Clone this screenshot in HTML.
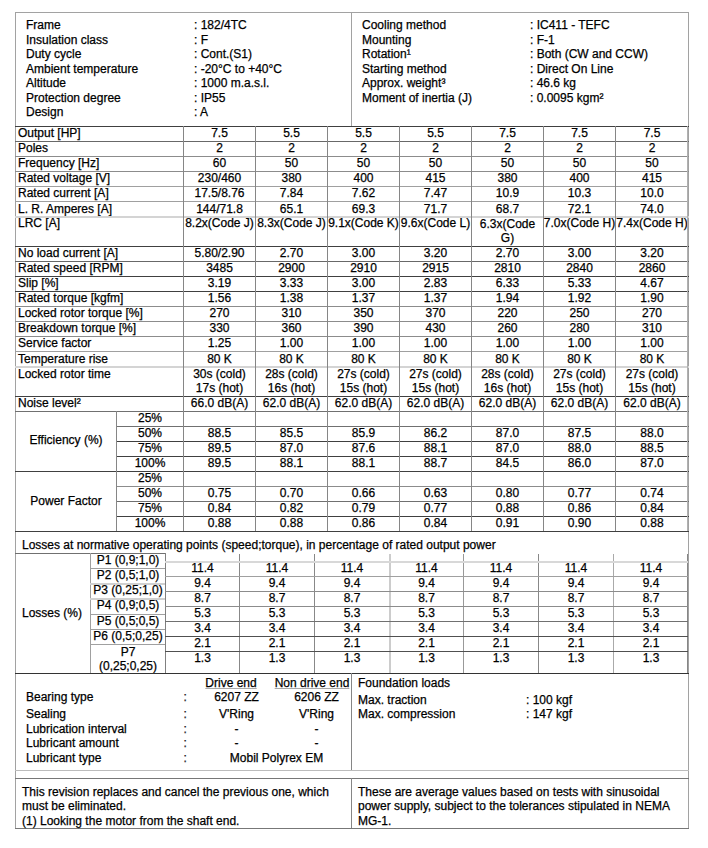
<!DOCTYPE html>
<html><head><meta charset="utf-8"><title>Motor data sheet</title>
<style>
html,body{margin:0;padding:0;background:#fff;}
body{width:708px;height:848px;position:relative;overflow:hidden;font-family:"Liberation Sans",sans-serif;font-size:12px;color:#000;}
.l{position:absolute;}
.t{position:absolute;white-space:nowrap;line-height:15px;-webkit-text-stroke:0.25px #000;}
u{text-decoration:underline;text-underline-offset:1px;text-decoration-color:#a8a8a8;}
</style></head><body>
<div class="l" style="left:15px;top:12px;width:674px;height:1px;background:#a2a2a2"></div>
<div class="l" style="left:15px;top:12px;width:1px;height:817px;background:#a2a2a2"></div>
<div class="l" style="left:688px;top:12px;width:1px;height:817px;background:#a2a2a2"></div>
<div class="l" style="left:351px;top:12px;width:1px;height:114px;background:#a2a2a2"></div>
<div class="t" style="left:26.0px;top:18px;">Frame</div>
<div class="t" style="left:194.0px;top:18px;">: 182/4TC</div>
<div class="t" style="left:26.0px;top:33px;">Insulation class</div>
<div class="t" style="left:194.0px;top:33px;">: F</div>
<div class="t" style="left:26.0px;top:47px;">Duty cycle</div>
<div class="t" style="left:194.0px;top:47px;">: Cont.(S1)</div>
<div class="t" style="left:26.0px;top:62px;">Ambient temperature</div>
<div class="t" style="left:194.0px;top:62px;">: -20°C to +40°C</div>
<div class="t" style="left:26.0px;top:76px;">Altitude</div>
<div class="t" style="left:194.0px;top:76px;">: 1000 m.a.s.l.</div>
<div class="t" style="left:26.0px;top:91px;">Protection degree</div>
<div class="t" style="left:194.0px;top:91px;">: IP55</div>
<div class="t" style="left:26.0px;top:105px;">Design</div>
<div class="t" style="left:194.0px;top:105px;">: A</div>
<div class="t" style="left:362.0px;top:18px;">Cooling method</div>
<div class="t" style="left:530.0px;top:18px;">: IC411 - TEFC</div>
<div class="t" style="left:362.0px;top:33px;">Mounting</div>
<div class="t" style="left:530.0px;top:33px;">: F-1</div>
<div class="t" style="left:362.0px;top:47px;">Rotation¹</div>
<div class="t" style="left:530.0px;top:47px;">: Both (CW and CCW)</div>
<div class="t" style="left:362.0px;top:62px;">Starting method</div>
<div class="t" style="left:530.0px;top:62px;">: Direct On Line</div>
<div class="t" style="left:362.0px;top:76px;">Approx. weight³</div>
<div class="t" style="left:530.0px;top:76px;">: 46.6 kg</div>
<div class="t" style="left:362.0px;top:91px;">Moment of inertia (J)</div>
<div class="t" style="left:530.0px;top:91px;">: 0.0095 kgm²</div>
<div class="l" style="left:15px;top:126px;width:674px;height:1px;background:#404040"></div>
<div class="t" style="left:18.0px;top:126px;">Output [HP]</div>
<div class="t" style="left:183.5px;top:126px;width:72px;text-align:center;">7.5</div>
<div class="t" style="left:255.5px;top:126px;width:72px;text-align:center;">5.5</div>
<div class="t" style="left:327.5px;top:126px;width:72px;text-align:center;">5.5</div>
<div class="t" style="left:399.5px;top:126px;width:72px;text-align:center;">5.5</div>
<div class="t" style="left:471.5px;top:126px;width:72px;text-align:center;">7.5</div>
<div class="t" style="left:543.5px;top:126px;width:72px;text-align:center;">7.5</div>
<div class="t" style="left:615.5px;top:126px;width:73px;text-align:center;">7.5</div>
<div class="l" style="left:15px;top:141px;width:674px;height:1px;background:#686868"></div>
<div class="t" style="left:18.0px;top:141px;">Poles</div>
<div class="t" style="left:183.5px;top:141px;width:72px;text-align:center;">2</div>
<div class="t" style="left:255.5px;top:141px;width:72px;text-align:center;">2</div>
<div class="t" style="left:327.5px;top:141px;width:72px;text-align:center;">2</div>
<div class="t" style="left:399.5px;top:141px;width:72px;text-align:center;">2</div>
<div class="t" style="left:471.5px;top:141px;width:72px;text-align:center;">2</div>
<div class="t" style="left:543.5px;top:141px;width:72px;text-align:center;">2</div>
<div class="t" style="left:615.5px;top:141px;width:73px;text-align:center;">2</div>
<div class="l" style="left:15px;top:156px;width:674px;height:1px;background:#8c8c8c"></div>
<div class="t" style="left:18.0px;top:156px;">Frequency [Hz]</div>
<div class="t" style="left:183.5px;top:156px;width:72px;text-align:center;">60</div>
<div class="t" style="left:255.5px;top:156px;width:72px;text-align:center;">50</div>
<div class="t" style="left:327.5px;top:156px;width:72px;text-align:center;">50</div>
<div class="t" style="left:399.5px;top:156px;width:72px;text-align:center;">50</div>
<div class="t" style="left:471.5px;top:156px;width:72px;text-align:center;">50</div>
<div class="t" style="left:543.5px;top:156px;width:72px;text-align:center;">50</div>
<div class="t" style="left:615.5px;top:156px;width:73px;text-align:center;">50</div>
<div class="l" style="left:15px;top:171px;width:674px;height:1px;background:#8c8c8c"></div>
<div class="t" style="left:18.0px;top:171px;">Rated voltage [V]</div>
<div class="t" style="left:183.5px;top:171px;width:72px;text-align:center;">230/460</div>
<div class="t" style="left:255.5px;top:171px;width:72px;text-align:center;">380</div>
<div class="t" style="left:327.5px;top:171px;width:72px;text-align:center;">400</div>
<div class="t" style="left:399.5px;top:171px;width:72px;text-align:center;">415</div>
<div class="t" style="left:471.5px;top:171px;width:72px;text-align:center;">380</div>
<div class="t" style="left:543.5px;top:171px;width:72px;text-align:center;">400</div>
<div class="t" style="left:615.5px;top:171px;width:73px;text-align:center;">415</div>
<div class="l" style="left:15px;top:186px;width:674px;height:1px;background:#a0a0a0"></div>
<div class="t" style="left:18.0px;top:186px;">Rated current [A]</div>
<div class="t" style="left:183.5px;top:186px;width:72px;text-align:center;">17.5/8.76</div>
<div class="t" style="left:255.5px;top:186px;width:72px;text-align:center;">7.84</div>
<div class="t" style="left:327.5px;top:186px;width:72px;text-align:center;">7.62</div>
<div class="t" style="left:399.5px;top:186px;width:72px;text-align:center;">7.47</div>
<div class="t" style="left:471.5px;top:186px;width:72px;text-align:center;">10.9</div>
<div class="t" style="left:543.5px;top:186px;width:72px;text-align:center;">10.3</div>
<div class="t" style="left:615.5px;top:186px;width:73px;text-align:center;">10.0</div>
<div class="l" style="left:15px;top:201px;width:674px;height:1px;background:#a0a0a0"></div>
<div class="t" style="left:18.0px;top:202px;">L. R. Amperes [A]</div>
<div class="t" style="left:183.5px;top:202px;width:72px;text-align:center;">144/71.8</div>
<div class="t" style="left:255.5px;top:202px;width:72px;text-align:center;">65.1</div>
<div class="t" style="left:327.5px;top:202px;width:72px;text-align:center;">69.3</div>
<div class="t" style="left:399.5px;top:202px;width:72px;text-align:center;">71.7</div>
<div class="t" style="left:471.5px;top:202px;width:72px;text-align:center;">68.7</div>
<div class="t" style="left:543.5px;top:202px;width:72px;text-align:center;">72.1</div>
<div class="t" style="left:615.5px;top:202px;width:73px;text-align:center;">74.0</div>
<div class="l" style="left:15px;top:216px;width:674px;height:2px;background:#d4d4d4"></div>
<div class="t" style="left:18.0px;top:216px;">LRC [A]</div>
<div class="t" style="left:183.5px;top:216px;width:72px;text-align:center;">8.2x(Code J)</div>
<div class="t" style="left:255.5px;top:216px;width:72px;text-align:center;">8.3x(Code J)</div>
<div class="t" style="left:327.5px;top:216px;width:72px;text-align:center;">9.1x(Code K)</div>
<div class="t" style="left:399.5px;top:216px;width:72px;text-align:center;">9.6x(Code L)</div>
<div class="t" style="left:471.5px;top:216px;width:72px;text-align:center;line-height:14px;padding-top:1px;">6.3x(Code<br>G)</div>
<div class="t" style="left:543.5px;top:216px;width:72px;text-align:center;">7.0x(Code H)</div>
<div class="t" style="left:615.5px;top:216px;width:73px;text-align:center;">7.4x(Code H)</div>
<div class="l" style="left:15px;top:246px;width:674px;height:1px;background:#404040"></div>
<div class="t" style="left:18.0px;top:246px;">No load current [A]</div>
<div class="t" style="left:183.5px;top:246px;width:72px;text-align:center;">5.80/2.90</div>
<div class="t" style="left:255.5px;top:246px;width:72px;text-align:center;">2.70</div>
<div class="t" style="left:327.5px;top:246px;width:72px;text-align:center;">3.00</div>
<div class="t" style="left:399.5px;top:246px;width:72px;text-align:center;">3.20</div>
<div class="t" style="left:471.5px;top:246px;width:72px;text-align:center;">2.70</div>
<div class="t" style="left:543.5px;top:246px;width:72px;text-align:center;">3.00</div>
<div class="t" style="left:615.5px;top:246px;width:73px;text-align:center;">3.20</div>
<div class="l" style="left:15px;top:261px;width:674px;height:1px;background:#686868"></div>
<div class="t" style="left:18.0px;top:261px;">Rated speed [RPM]</div>
<div class="t" style="left:183.5px;top:261px;width:72px;text-align:center;">3485</div>
<div class="t" style="left:255.5px;top:261px;width:72px;text-align:center;">2900</div>
<div class="t" style="left:327.5px;top:261px;width:72px;text-align:center;">2910</div>
<div class="t" style="left:399.5px;top:261px;width:72px;text-align:center;">2915</div>
<div class="t" style="left:471.5px;top:261px;width:72px;text-align:center;">2810</div>
<div class="t" style="left:543.5px;top:261px;width:72px;text-align:center;">2840</div>
<div class="t" style="left:615.5px;top:261px;width:73px;text-align:center;">2860</div>
<div class="l" style="left:15px;top:276px;width:674px;height:1px;background:#404040"></div>
<div class="t" style="left:18.0px;top:276px;">Slip [%]</div>
<div class="t" style="left:183.5px;top:276px;width:72px;text-align:center;">3.19</div>
<div class="t" style="left:255.5px;top:276px;width:72px;text-align:center;">3.33</div>
<div class="t" style="left:327.5px;top:276px;width:72px;text-align:center;">3.00</div>
<div class="t" style="left:399.5px;top:276px;width:72px;text-align:center;">2.83</div>
<div class="t" style="left:471.5px;top:276px;width:72px;text-align:center;">6.33</div>
<div class="t" style="left:543.5px;top:276px;width:72px;text-align:center;">5.33</div>
<div class="t" style="left:615.5px;top:276px;width:73px;text-align:center;">4.67</div>
<div class="l" style="left:15px;top:291px;width:674px;height:1px;background:#404040"></div>
<div class="t" style="left:18.0px;top:291px;">Rated torque [kgfm]</div>
<div class="t" style="left:183.5px;top:291px;width:72px;text-align:center;">1.56</div>
<div class="t" style="left:255.5px;top:291px;width:72px;text-align:center;">1.38</div>
<div class="t" style="left:327.5px;top:291px;width:72px;text-align:center;">1.37</div>
<div class="t" style="left:399.5px;top:291px;width:72px;text-align:center;">1.37</div>
<div class="t" style="left:471.5px;top:291px;width:72px;text-align:center;">1.94</div>
<div class="t" style="left:543.5px;top:291px;width:72px;text-align:center;">1.92</div>
<div class="t" style="left:615.5px;top:291px;width:73px;text-align:center;">1.90</div>
<div class="l" style="left:15px;top:306px;width:674px;height:1px;background:#8c8c8c"></div>
<div class="t" style="left:18.0px;top:306px;">Locked rotor torque [%]</div>
<div class="t" style="left:183.5px;top:306px;width:72px;text-align:center;">270</div>
<div class="t" style="left:255.5px;top:306px;width:72px;text-align:center;">310</div>
<div class="t" style="left:327.5px;top:306px;width:72px;text-align:center;">350</div>
<div class="t" style="left:399.5px;top:306px;width:72px;text-align:center;">370</div>
<div class="t" style="left:471.5px;top:306px;width:72px;text-align:center;">220</div>
<div class="t" style="left:543.5px;top:306px;width:72px;text-align:center;">250</div>
<div class="t" style="left:615.5px;top:306px;width:73px;text-align:center;">270</div>
<div class="l" style="left:15px;top:321px;width:674px;height:1px;background:#8c8c8c"></div>
<div class="t" style="left:18.0px;top:321px;">Breakdown torque [%]</div>
<div class="t" style="left:183.5px;top:321px;width:72px;text-align:center;">330</div>
<div class="t" style="left:255.5px;top:321px;width:72px;text-align:center;">360</div>
<div class="t" style="left:327.5px;top:321px;width:72px;text-align:center;">390</div>
<div class="t" style="left:399.5px;top:321px;width:72px;text-align:center;">430</div>
<div class="t" style="left:471.5px;top:321px;width:72px;text-align:center;">260</div>
<div class="t" style="left:543.5px;top:321px;width:72px;text-align:center;">280</div>
<div class="t" style="left:615.5px;top:321px;width:73px;text-align:center;">310</div>
<div class="l" style="left:15px;top:336px;width:674px;height:1px;background:#8c8c8c"></div>
<div class="t" style="left:18.0px;top:336px;">Service factor</div>
<div class="t" style="left:183.5px;top:336px;width:72px;text-align:center;">1.25</div>
<div class="t" style="left:255.5px;top:336px;width:72px;text-align:center;">1.00</div>
<div class="t" style="left:327.5px;top:336px;width:72px;text-align:center;">1.00</div>
<div class="t" style="left:399.5px;top:336px;width:72px;text-align:center;">1.00</div>
<div class="t" style="left:471.5px;top:336px;width:72px;text-align:center;">1.00</div>
<div class="t" style="left:543.5px;top:336px;width:72px;text-align:center;">1.00</div>
<div class="t" style="left:615.5px;top:336px;width:73px;text-align:center;">1.00</div>
<div class="l" style="left:15px;top:351px;width:674px;height:1px;background:#a0a0a0"></div>
<div class="t" style="left:18.0px;top:352px;">Temperature rise</div>
<div class="t" style="left:183.5px;top:352px;width:72px;text-align:center;">80 K</div>
<div class="t" style="left:255.5px;top:352px;width:72px;text-align:center;">80 K</div>
<div class="t" style="left:327.5px;top:352px;width:72px;text-align:center;">80 K</div>
<div class="t" style="left:399.5px;top:352px;width:72px;text-align:center;">80 K</div>
<div class="t" style="left:471.5px;top:352px;width:72px;text-align:center;">80 K</div>
<div class="t" style="left:543.5px;top:352px;width:72px;text-align:center;">80 K</div>
<div class="t" style="left:615.5px;top:352px;width:73px;text-align:center;">80 K</div>
<div class="l" style="left:15px;top:366px;width:674px;height:2px;background:#d4d4d4"></div>
<div class="t" style="left:18.0px;top:367px;">Locked rotor time</div>
<div class="t" style="left:183.5px;top:366px;width:72px;text-align:center;line-height:14px;padding-top:1px;">30s (cold)<br>17s (hot)</div>
<div class="t" style="left:255.5px;top:366px;width:72px;text-align:center;line-height:14px;padding-top:1px;">28s (cold)<br>16s (hot)</div>
<div class="t" style="left:327.5px;top:366px;width:72px;text-align:center;line-height:14px;padding-top:1px;">27s (cold)<br>15s (hot)</div>
<div class="t" style="left:399.5px;top:366px;width:72px;text-align:center;line-height:14px;padding-top:1px;">27s (cold)<br>15s (hot)</div>
<div class="t" style="left:471.5px;top:366px;width:72px;text-align:center;line-height:14px;padding-top:1px;">28s (cold)<br>16s (hot)</div>
<div class="t" style="left:543.5px;top:366px;width:72px;text-align:center;line-height:14px;padding-top:1px;">27s (cold)<br>15s (hot)</div>
<div class="t" style="left:615.5px;top:366px;width:73px;text-align:center;line-height:14px;padding-top:1px;">27s (cold)<br>15s (hot)</div>
<div class="l" style="left:15px;top:396px;width:674px;height:1px;background:#404040"></div>
<div class="t" style="left:18.0px;top:396px;">Noise level²</div>
<div class="t" style="left:183.5px;top:396px;width:72px;text-align:center;">66.0 dB(A)</div>
<div class="t" style="left:255.5px;top:396px;width:72px;text-align:center;">62.0 dB(A)</div>
<div class="t" style="left:327.5px;top:396px;width:72px;text-align:center;">62.0 dB(A)</div>
<div class="t" style="left:399.5px;top:396px;width:72px;text-align:center;">62.0 dB(A)</div>
<div class="t" style="left:471.5px;top:396px;width:72px;text-align:center;">62.0 dB(A)</div>
<div class="t" style="left:543.5px;top:396px;width:72px;text-align:center;">62.0 dB(A)</div>
<div class="t" style="left:615.5px;top:396px;width:73px;text-align:center;">62.0 dB(A)</div>
<div class="l" style="left:15px;top:411px;width:674px;height:1px;background:#707070"></div>
<div class="t" style="left:15.5px;top:433px;width:101px;text-align:center;">Efficiency (%)</div>
<div class="t" style="left:116.5px;top:411px;width:67px;text-align:center;">25%</div>
<div class="t" style="left:183.5px;top:411px;width:72px;text-align:center;"></div>
<div class="t" style="left:255.5px;top:411px;width:72px;text-align:center;"></div>
<div class="t" style="left:327.5px;top:411px;width:72px;text-align:center;"></div>
<div class="t" style="left:399.5px;top:411px;width:72px;text-align:center;"></div>
<div class="t" style="left:471.5px;top:411px;width:72px;text-align:center;"></div>
<div class="t" style="left:543.5px;top:411px;width:72px;text-align:center;"></div>
<div class="t" style="left:615.5px;top:411px;width:73px;text-align:center;"></div>
<div class="l" style="left:116px;top:426px;width:573px;height:1px;background:#707070"></div>
<div class="t" style="left:116.5px;top:426px;width:67px;text-align:center;">50%</div>
<div class="t" style="left:183.5px;top:426px;width:72px;text-align:center;">88.5</div>
<div class="t" style="left:255.5px;top:426px;width:72px;text-align:center;">85.5</div>
<div class="t" style="left:327.5px;top:426px;width:72px;text-align:center;">85.9</div>
<div class="t" style="left:399.5px;top:426px;width:72px;text-align:center;">86.2</div>
<div class="t" style="left:471.5px;top:426px;width:72px;text-align:center;">87.0</div>
<div class="t" style="left:543.5px;top:426px;width:72px;text-align:center;">87.5</div>
<div class="t" style="left:615.5px;top:426px;width:73px;text-align:center;">88.0</div>
<div class="l" style="left:116px;top:441px;width:573px;height:1px;background:#404040"></div>
<div class="t" style="left:116.5px;top:441px;width:67px;text-align:center;">75%</div>
<div class="t" style="left:183.5px;top:441px;width:72px;text-align:center;">89.5</div>
<div class="t" style="left:255.5px;top:441px;width:72px;text-align:center;">87.0</div>
<div class="t" style="left:327.5px;top:441px;width:72px;text-align:center;">87.6</div>
<div class="t" style="left:399.5px;top:441px;width:72px;text-align:center;">88.1</div>
<div class="t" style="left:471.5px;top:441px;width:72px;text-align:center;">87.0</div>
<div class="t" style="left:543.5px;top:441px;width:72px;text-align:center;">88.0</div>
<div class="t" style="left:615.5px;top:441px;width:73px;text-align:center;">88.5</div>
<div class="l" style="left:116px;top:456px;width:573px;height:1px;background:#404040"></div>
<div class="t" style="left:116.5px;top:456px;width:67px;text-align:center;">100%</div>
<div class="t" style="left:183.5px;top:456px;width:72px;text-align:center;">89.5</div>
<div class="t" style="left:255.5px;top:456px;width:72px;text-align:center;">88.1</div>
<div class="t" style="left:327.5px;top:456px;width:72px;text-align:center;">88.1</div>
<div class="t" style="left:399.5px;top:456px;width:72px;text-align:center;">88.7</div>
<div class="t" style="left:471.5px;top:456px;width:72px;text-align:center;">84.5</div>
<div class="t" style="left:543.5px;top:456px;width:72px;text-align:center;">86.0</div>
<div class="t" style="left:615.5px;top:456px;width:73px;text-align:center;">87.0</div>
<div class="l" style="left:116px;top:411px;width:1px;height:60px;background:#868686"></div>
<div class="l" style="left:15px;top:471px;width:674px;height:1px;background:#404040"></div>
<div class="t" style="left:15.5px;top:494px;width:101px;text-align:center;">Power Factor</div>
<div class="t" style="left:116.5px;top:471px;width:67px;text-align:center;">25%</div>
<div class="t" style="left:183.5px;top:471px;width:72px;text-align:center;"></div>
<div class="t" style="left:255.5px;top:471px;width:72px;text-align:center;"></div>
<div class="t" style="left:327.5px;top:471px;width:72px;text-align:center;"></div>
<div class="t" style="left:399.5px;top:471px;width:72px;text-align:center;"></div>
<div class="t" style="left:471.5px;top:471px;width:72px;text-align:center;"></div>
<div class="t" style="left:543.5px;top:471px;width:72px;text-align:center;"></div>
<div class="t" style="left:615.5px;top:471px;width:73px;text-align:center;"></div>
<div class="l" style="left:116px;top:486px;width:573px;height:1px;background:#8c8c8c"></div>
<div class="t" style="left:116.5px;top:486px;width:67px;text-align:center;">50%</div>
<div class="t" style="left:183.5px;top:486px;width:72px;text-align:center;">0.75</div>
<div class="t" style="left:255.5px;top:486px;width:72px;text-align:center;">0.70</div>
<div class="t" style="left:327.5px;top:486px;width:72px;text-align:center;">0.66</div>
<div class="t" style="left:399.5px;top:486px;width:72px;text-align:center;">0.63</div>
<div class="t" style="left:471.5px;top:486px;width:72px;text-align:center;">0.80</div>
<div class="t" style="left:543.5px;top:486px;width:72px;text-align:center;">0.77</div>
<div class="t" style="left:615.5px;top:486px;width:73px;text-align:center;">0.74</div>
<div class="l" style="left:116px;top:501px;width:573px;height:1px;background:#707070"></div>
<div class="t" style="left:116.5px;top:501px;width:67px;text-align:center;">75%</div>
<div class="t" style="left:183.5px;top:501px;width:72px;text-align:center;">0.84</div>
<div class="t" style="left:255.5px;top:501px;width:72px;text-align:center;">0.82</div>
<div class="t" style="left:327.5px;top:501px;width:72px;text-align:center;">0.79</div>
<div class="t" style="left:399.5px;top:501px;width:72px;text-align:center;">0.77</div>
<div class="t" style="left:471.5px;top:501px;width:72px;text-align:center;">0.88</div>
<div class="t" style="left:543.5px;top:501px;width:72px;text-align:center;">0.86</div>
<div class="t" style="left:615.5px;top:501px;width:73px;text-align:center;">0.84</div>
<div class="l" style="left:116px;top:516px;width:573px;height:1px;background:#404040"></div>
<div class="t" style="left:116.5px;top:516px;width:67px;text-align:center;">100%</div>
<div class="t" style="left:183.5px;top:516px;width:72px;text-align:center;">0.88</div>
<div class="t" style="left:255.5px;top:516px;width:72px;text-align:center;">0.88</div>
<div class="t" style="left:327.5px;top:516px;width:72px;text-align:center;">0.86</div>
<div class="t" style="left:399.5px;top:516px;width:72px;text-align:center;">0.84</div>
<div class="t" style="left:471.5px;top:516px;width:72px;text-align:center;">0.91</div>
<div class="t" style="left:543.5px;top:516px;width:72px;text-align:center;">0.90</div>
<div class="t" style="left:615.5px;top:516px;width:73px;text-align:center;">0.88</div>
<div class="l" style="left:116px;top:471px;width:1px;height:60px;background:#868686"></div>
<div class="l" style="left:183px;top:126px;width:1px;height:405px;background:#868686"></div>
<div class="l" style="left:255px;top:126px;width:1px;height:405px;background:#868686"></div>
<div class="l" style="left:327px;top:126px;width:1px;height:405px;background:#868686"></div>
<div class="l" style="left:399px;top:126px;width:1px;height:405px;background:#868686"></div>
<div class="l" style="left:471px;top:126px;width:1px;height:405px;background:#868686"></div>
<div class="l" style="left:543px;top:126px;width:1px;height:405px;background:#868686"></div>
<div class="l" style="left:615px;top:126px;width:1px;height:405px;background:#868686"></div>
<div class="l" style="left:687px;top:126px;width:1px;height:405px;background:#b0b0b0"></div>
<div class="l" style="left:15px;top:531px;width:674px;height:1px;background:#404040"></div>
<div class="t" style="left:22.0px;top:538px;">Losses at normative operating points (speed;torque), in percentage of rated output power</div>
<div class="l" style="left:15px;top:553px;width:151px;height:1px;background:#707070"></div>
<div class="l" style="left:90px;top:553px;width:1px;height:120px;background:#a0a0a0"></div>
<div class="t" style="left:14.5px;top:606px;width:75px;text-align:center;">Losses (%)</div>
<div class="t" style="left:90.5px;top:553px;width:75px;text-align:center;">P1 (0,9;1,0)</div>
<div class="l" style="left:90px;top:568px;width:76px;height:1px;background:#a0a0a0"></div>
<div class="t" style="left:90.5px;top:568px;width:75px;text-align:center;">P2 (0,5;1,0)</div>
<div class="l" style="left:90px;top:583px;width:76px;height:2px;background:#d0d0d0"></div>
<div class="t" style="left:90.5px;top:583px;width:75px;text-align:center;">P3 (0,25;1,0)</div>
<div class="l" style="left:90px;top:598px;width:76px;height:2px;background:#d0d0d0"></div>
<div class="t" style="left:90.5px;top:598px;width:75px;text-align:center;">P4 (0,9;0,5)</div>
<div class="l" style="left:90px;top:614px;width:76px;height:1px;background:#a0a0a0"></div>
<div class="t" style="left:90.5px;top:614px;width:75px;text-align:center;">P5 (0,5;0,5)</div>
<div class="l" style="left:90px;top:629px;width:76px;height:1px;background:#a0a0a0"></div>
<div class="t" style="left:90.5px;top:629px;width:75px;text-align:center;">P6 (0,5;0,25)</div>
<div class="l" style="left:90px;top:644px;width:76px;height:1px;background:#a0a0a0"></div>
<div class="t" style="left:90.5px;top:644px;width:75px;text-align:center;line-height:14px;padding-top:1px;">P7<br>(0,25;0,25)</div>
<div class="l" style="left:165px;top:553px;width:1px;height:120px;background:#808080"></div>
<div class="l" style="left:239px;top:554px;width:1px;height:119px;background:#888"></div>
<div class="l" style="left:314px;top:554px;width:1px;height:119px;background:#888"></div>
<div class="l" style="left:389px;top:554px;width:2px;height:119px;background:#cccccc"></div>
<div class="l" style="left:463px;top:554px;width:1px;height:119px;background:#999"></div>
<div class="l" style="left:538px;top:554px;width:1px;height:119px;background:#888"></div>
<div class="l" style="left:613px;top:554px;width:1px;height:119px;background:#aaa"></div>
<div class="l" style="left:687px;top:554px;width:1px;height:119px;background:#868686"></div>
<div class="l" style="left:165px;top:561px;width:523px;height:2px;background:#d8d8d8"></div>
<div class="t" style="left:165.5px;top:561px;width:74px;text-align:center;">11.4</div>
<div class="t" style="left:239.5px;top:561px;width:75px;text-align:center;">11.4</div>
<div class="t" style="left:314.5px;top:561px;width:75px;text-align:center;">11.4</div>
<div class="t" style="left:389.5px;top:561px;width:74px;text-align:center;">11.4</div>
<div class="t" style="left:463.5px;top:561px;width:75px;text-align:center;">11.4</div>
<div class="t" style="left:538.5px;top:561px;width:75px;text-align:center;">11.4</div>
<div class="t" style="left:613.5px;top:561px;width:75px;text-align:center;">11.4</div>
<div class="l" style="left:165px;top:576px;width:523px;height:1px;background:#a0a0a0"></div>
<div class="t" style="left:165.5px;top:576px;width:74px;text-align:center;">9.4</div>
<div class="t" style="left:239.5px;top:576px;width:75px;text-align:center;">9.4</div>
<div class="t" style="left:314.5px;top:576px;width:75px;text-align:center;">9.4</div>
<div class="t" style="left:389.5px;top:576px;width:74px;text-align:center;">9.4</div>
<div class="t" style="left:463.5px;top:576px;width:75px;text-align:center;">9.4</div>
<div class="t" style="left:538.5px;top:576px;width:75px;text-align:center;">9.4</div>
<div class="t" style="left:613.5px;top:576px;width:75px;text-align:center;">9.4</div>
<div class="l" style="left:165px;top:591px;width:523px;height:1px;background:#8c8c8c"></div>
<div class="t" style="left:165.5px;top:591px;width:74px;text-align:center;">8.7</div>
<div class="t" style="left:239.5px;top:591px;width:75px;text-align:center;">8.7</div>
<div class="t" style="left:314.5px;top:591px;width:75px;text-align:center;">8.7</div>
<div class="t" style="left:389.5px;top:591px;width:74px;text-align:center;">8.7</div>
<div class="t" style="left:463.5px;top:591px;width:75px;text-align:center;">8.7</div>
<div class="t" style="left:538.5px;top:591px;width:75px;text-align:center;">8.7</div>
<div class="t" style="left:613.5px;top:591px;width:75px;text-align:center;">8.7</div>
<div class="l" style="left:165px;top:606px;width:523px;height:1px;background:#8c8c8c"></div>
<div class="t" style="left:165.5px;top:606px;width:74px;text-align:center;">5.3</div>
<div class="t" style="left:239.5px;top:606px;width:75px;text-align:center;">5.3</div>
<div class="t" style="left:314.5px;top:606px;width:75px;text-align:center;">5.3</div>
<div class="t" style="left:389.5px;top:606px;width:74px;text-align:center;">5.3</div>
<div class="t" style="left:463.5px;top:606px;width:75px;text-align:center;">5.3</div>
<div class="t" style="left:538.5px;top:606px;width:75px;text-align:center;">5.3</div>
<div class="t" style="left:613.5px;top:606px;width:75px;text-align:center;">5.3</div>
<div class="l" style="left:165px;top:621px;width:523px;height:1px;background:#707070"></div>
<div class="t" style="left:165.5px;top:621px;width:74px;text-align:center;">3.4</div>
<div class="t" style="left:239.5px;top:621px;width:75px;text-align:center;">3.4</div>
<div class="t" style="left:314.5px;top:621px;width:75px;text-align:center;">3.4</div>
<div class="t" style="left:389.5px;top:621px;width:74px;text-align:center;">3.4</div>
<div class="t" style="left:463.5px;top:621px;width:75px;text-align:center;">3.4</div>
<div class="t" style="left:538.5px;top:621px;width:75px;text-align:center;">3.4</div>
<div class="t" style="left:613.5px;top:621px;width:75px;text-align:center;">3.4</div>
<div class="l" style="left:165px;top:636px;width:523px;height:1px;background:#505050"></div>
<div class="t" style="left:165.5px;top:636px;width:74px;text-align:center;">2.1</div>
<div class="t" style="left:239.5px;top:636px;width:75px;text-align:center;">2.1</div>
<div class="t" style="left:314.5px;top:636px;width:75px;text-align:center;">2.1</div>
<div class="t" style="left:389.5px;top:636px;width:74px;text-align:center;">2.1</div>
<div class="t" style="left:463.5px;top:636px;width:75px;text-align:center;">2.1</div>
<div class="t" style="left:538.5px;top:636px;width:75px;text-align:center;">2.1</div>
<div class="t" style="left:613.5px;top:636px;width:75px;text-align:center;">2.1</div>
<div class="l" style="left:165px;top:651px;width:523px;height:1px;background:#505050"></div>
<div class="t" style="left:165.5px;top:651px;width:74px;text-align:center;">1.3</div>
<div class="t" style="left:239.5px;top:651px;width:75px;text-align:center;">1.3</div>
<div class="t" style="left:314.5px;top:651px;width:75px;text-align:center;">1.3</div>
<div class="t" style="left:389.5px;top:651px;width:74px;text-align:center;">1.3</div>
<div class="t" style="left:463.5px;top:651px;width:75px;text-align:center;">1.3</div>
<div class="t" style="left:538.5px;top:651px;width:75px;text-align:center;">1.3</div>
<div class="t" style="left:613.5px;top:651px;width:75px;text-align:center;">1.3</div>
<div class="l" style="left:15px;top:673px;width:674px;height:1px;background:#333"></div>
<div class="l" style="left:351px;top:673px;width:1px;height:97px;background:#868686"></div>
<div class="t" style="left:193.5px;top:676px;width:75px;text-align:center;"><u>Drive end</u></div>
<div class="t" style="left:274.5px;top:676px;width:75px;text-align:center;"><u>Non drive end</u></div>
<div class="t" style="left:26.0px;top:690px;">Bearing type</div>
<div class="t" style="left:183.5px;top:690px;color:#333">:</div>
<div class="t" style="left:201.5px;top:690px;width:70px;text-align:center;">6207 ZZ</div>
<div class="t" style="left:281.5px;top:690px;width:70px;text-align:center;">6206 ZZ</div>
<div class="t" style="left:26.0px;top:707px;">Sealing</div>
<div class="t" style="left:183.5px;top:707px;color:#333">:</div>
<div class="t" style="left:201.5px;top:707px;width:70px;text-align:center;">V'Ring</div>
<div class="t" style="left:281.5px;top:707px;width:70px;text-align:center;">V'Ring</div>
<div class="t" style="left:26.0px;top:722px;">Lubrication interval</div>
<div class="t" style="left:183.5px;top:722px;color:#333">:</div>
<div class="t" style="left:201.5px;top:722px;width:70px;text-align:center;">-</div>
<div class="t" style="left:281.5px;top:722px;width:70px;text-align:center;">-</div>
<div class="t" style="left:26.0px;top:736px;">Lubricant amount</div>
<div class="t" style="left:183.5px;top:736px;color:#333">:</div>
<div class="t" style="left:201.5px;top:736px;width:70px;text-align:center;">-</div>
<div class="t" style="left:281.5px;top:736px;width:70px;text-align:center;">-</div>
<div class="t" style="left:26.0px;top:751px;">Lubricant type</div>
<div class="t" style="left:183.5px;top:751px;color:#333">:</div>
<div class="t" style="left:201.5px;top:751px;width:150px;text-align:center;">Mobil Polyrex EM</div>
<div class="t" style="left:358.0px;top:676px;">Foundation loads</div>
<div class="t" style="left:358.0px;top:693px;">Max. traction</div>
<div class="t" style="left:526.0px;top:693px;">: 100 kgf</div>
<div class="t" style="left:358.0px;top:707px;">Max. compression</div>
<div class="t" style="left:526.0px;top:707px;">: 147 kgf</div>
<div class="l" style="left:15px;top:770px;width:674px;height:1px;background:#bcbcbc"></div>
<div class="l" style="left:15px;top:778px;width:674px;height:1px;background:#777"></div>
<div class="l" style="left:351px;top:778px;width:1px;height:50px;background:#868686"></div>
<div class="l" style="left:15px;top:828px;width:674px;height:1px;background:#777"></div>
<div class="t" style="left:22.0px;top:785px;">This revision replaces and cancel the previous one, which</div>
<div class="t" style="left:22.0px;top:799px;">must be eliminated.</div>
<div class="t" style="left:22.0px;top:814px;">(1) Looking the motor from the shaft end.</div>
<div class="t" style="left:358.0px;top:785px;">These are average values based on tests with sinusoidal</div>
<div class="t" style="left:358.0px;top:799px;">power supply, subject to the tolerances stipulated in NEMA</div>
<div class="t" style="left:358.0px;top:814px;">MG-1.</div>
</body></html>
